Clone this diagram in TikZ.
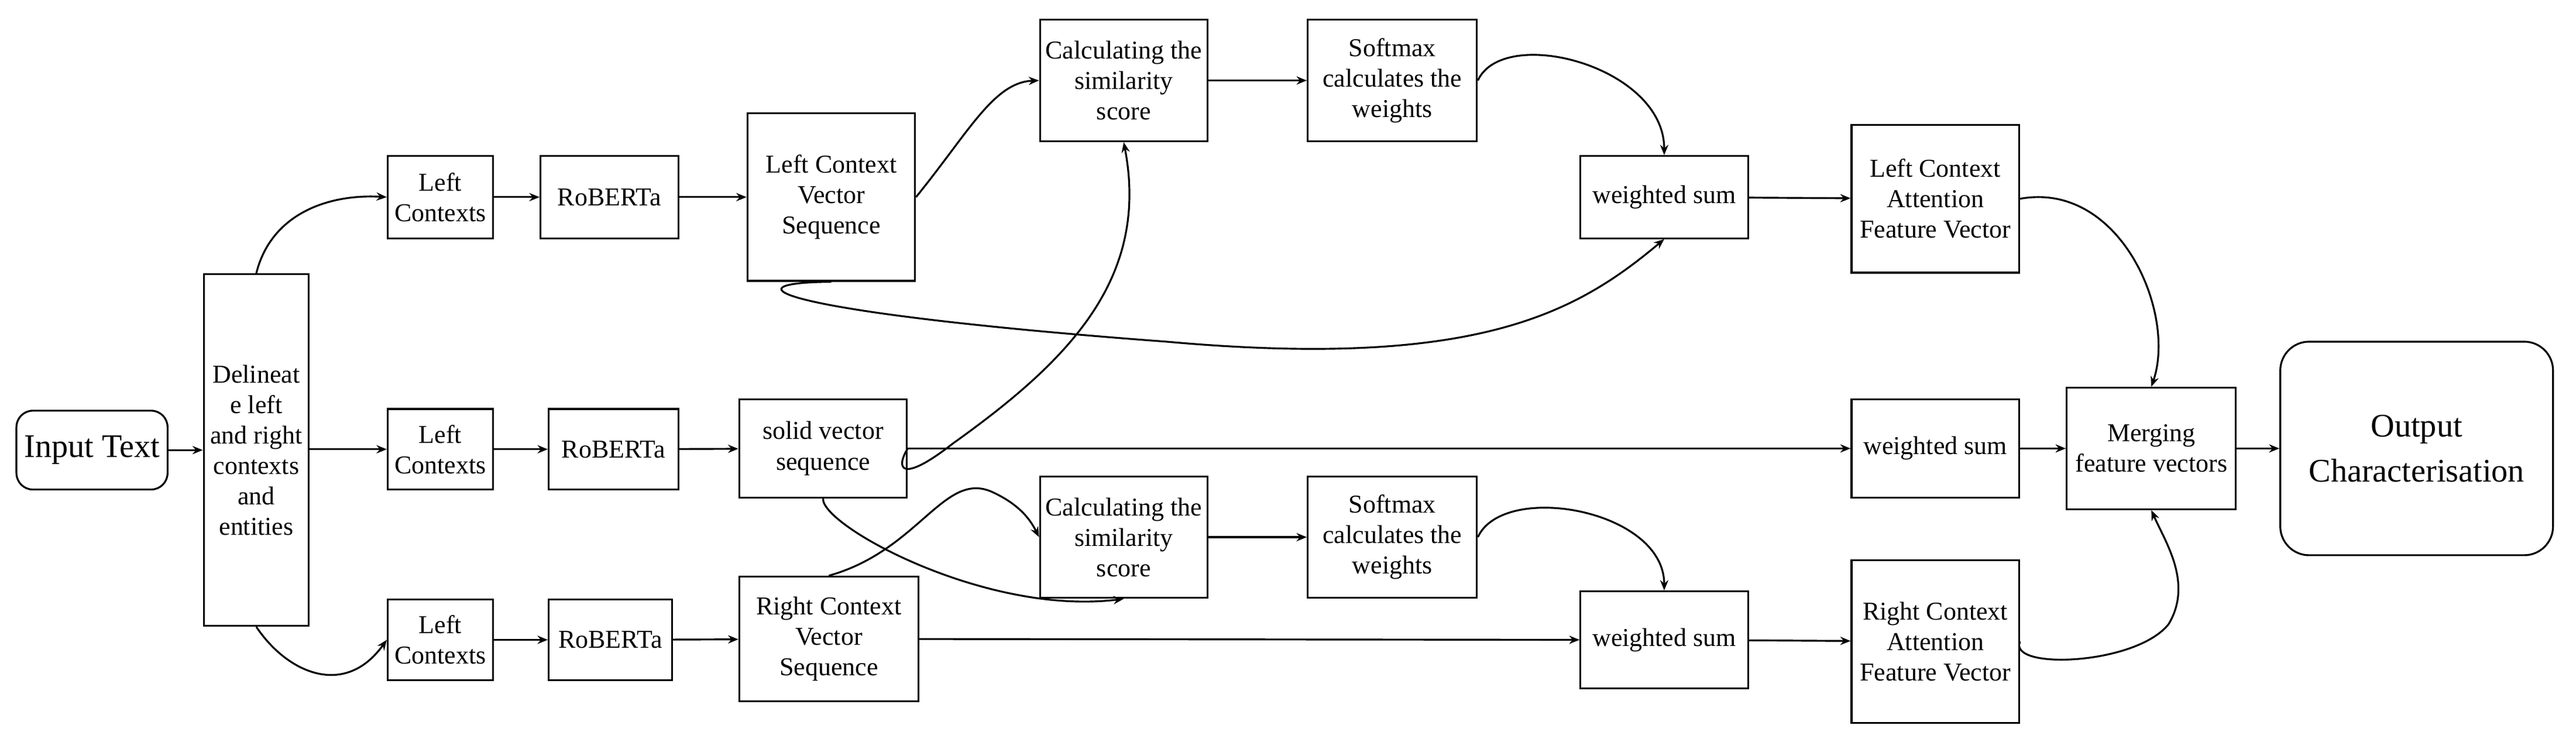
\documentclass[tikz,border=0pt]{standalone}
\usepackage{fontspec}
\setmainfont{Liberation Serif}
\usetikzlibrary{arrows.meta}
\begin{document}
\begin{tikzpicture}[x=0.02807cm,y=-0.02807cm,
  every node/.style={font=\fontsize{12.5}{14.8}\selectfont, align=center, inner sep=1pt},
  bx/.style n args={4}{draw, line width=0.9pt, minimum width=(#3-#1)*0.02807cm, minimum height=(#4-#2)*0.02807cm},
  ar/.style={line width=0.9pt, -{Stealth[length=5pt,width=4pt]}},
  ln/.style={line width=0.9pt}]
\useasboundingbox (0,0) rectangle (1568,449.6);
\node[bx={10}{250}{102}{298}, rounded corners=8pt, font=\fontsize{16}{19}\selectfont] (in) at (56,274) {Input Text};
\node[bx={124}{167}{188}{381}] (del) at (156,274) {Delineat\\e left\\and right\\contexts\\and\\entities};
\node[bx={236}{95}{300}{145}] (lc1) at (268,120) {Left\\Contexts};
\node[bx={236}{249}{300}{298}] (lc2) at (268,273.5) {Left\\Contexts};
\node[bx={236}{365}{300}{414}] (lc3) at (268,389.5) {Left\\Contexts};
\node[bx={329}{95}{413}{145}] (rb1) at (371,120) {RoBERTa};
\node[bx={334}{249}{413}{298}] (rb2) at (373.5,273.5) {RoBERTa};
\node[bx={334}{365}{409}{414}] (rb3) at (371.5,389.5) {RoBERTa};
\node[bx={455}{69}{557}{171}] (lv) at (506,120) {Left Context\\Vector\\Sequence};
\node[bx={450}{243}{552}{303}] (sv) at (501,273) {solid vector\\sequence};
\node[bx={450}{351}{559}{427}] (rv) at (504.5,389) {Right Context\\Vector\\Sequence};
\node[bx={633}{12}{735}{86}] (cs1) at (684,49) {Calculating the\\similarity\\score};
\node[bx={633}{290}{735}{364}] (cs2) at (684,327) {Calculating the\\similarity\\score};
\node[bx={796}{12}{899}{86}] (sm1) at (847.5,49) {Softmax\\calculates the\\weights};
\node[bx={796}{290}{899}{364}] (sm2) at (847.5,327) {Softmax\\calculates the\\weights};
\node[bx={962}{95}{1064}{145}] (ws1) at (1013,120) {weighted sum};
\node[bx={1127}{243}{1229}{303}] (ws2) at (1178,273) {weighted sum};
\node[bx={962}{360}{1064}{419}] (ws3) at (1013,389.5) {weighted sum};
\node[bx={1127}{76}{1229}{166}] (la) at (1178,121) {Left Context\\Attention\\Feature Vector};
\node[bx={1127}{341}{1229}{440}] (ra) at (1178,390.5) {Right Context\\Attention\\Feature Vector};
\node[bx={1258}{236}{1361}{310}] (mg) at (1309.5,273) {Merging\\feature vectors};
\node[bx={1388}{208}{1554}{338}, rounded corners=14pt, font=\fontsize{16}{22}\selectfont] (out) at (1471,273) {Output\\Characterisation};

\draw[ar] (in) -- (del);
\draw[ar] (del.north) .. controls (165,130) and (200,118) .. (lc1.west);
\draw[ar] (del.east |- lc2) -- (lc2);
\draw[ar] (del.south) .. controls (175,410) and (210,425) .. (lc3.west);
\draw[ar] (lc1) -- (rb1); \draw[ar] (rb1) -- (lv);
\draw[ar] (lc2) -- (rb2); \draw[ar] (rb2) -- (sv);
\draw[ar] (lc3) -- (rb3); \draw[ar] (rb3) -- (rv);
\draw[ar] (lv.east) .. controls (590,80) and (605,50) .. (cs1.west);
\draw[ar] (cs1) -- (sm1);
\draw[ar] (sm1.east) .. controls (915,15) and (1013,40) .. (ws1.north);
\draw[ar] (ws1) -- (la);
\draw[ar] (la.east) .. controls (1290,110) and (1325,190) .. (mg.north);
\draw[ar] (lv.south) .. controls (440,172) and (470,190) .. (710,208) .. controls (900,225) and (960,190) .. (ws1.south);
\draw[ar] (sv.east) .. controls (545,285) and (548,295) .. (580,270) .. controls (650,220) and (700,170) .. (cs1.south);
\draw[ar] (sv.east) -- (ws2.west);
\draw[ar] (sv.south) .. controls (500,320) and (600,375) .. (cs2.south);
\draw[ar] (rv.north) .. controls (560,335) and (575,285) .. (605,300) .. controls (622,308) and (628,318) .. (cs2.west);
\draw[ar] (rv.east) -- (ws3.west);
\draw[ar] (cs2) -- (sm2);
\draw[ar] (sm2.east) .. controls (915,293) and (1013,310) .. (ws3.north);
\draw[ar] (ws3) -- (ra);
\draw[ar] (ra.east) .. controls (1222,408) and (1300,405) .. (1320,380) .. controls (1335,355) and (1318,330) .. (mg.south);
\draw[ar] (ws2) -- (mg);
\draw[ar] (mg) -- (out);
\end{tikzpicture}
\end{document}
